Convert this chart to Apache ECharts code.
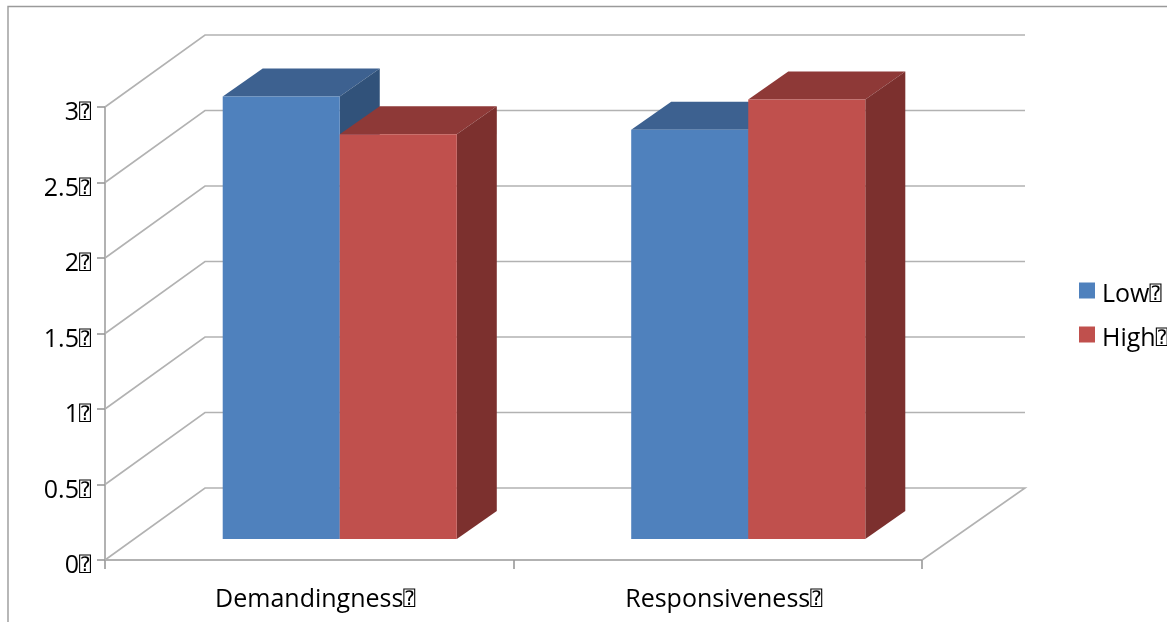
<!DOCTYPE html>
<html>
<head>
<meta charset="utf-8">
<style>html,body{margin:0;padding:0;background:#fff}#c{width:1167px;height:622px}</style>
<script src="https://cdn.jsdelivr.net/npm/echarts@6/dist/echarts.min.js"></script>
</head>
<body>
<div id="c"></div>
<script>
const categories = ['Demandingness', 'Responsiveness'];
const lowValues = [2.93, 2.71];
const highValues = [2.68, 2.91];
const yTicks = [0, 0.5, 1, 1.5, 2, 2.5, 3];
const mark = '\u2370';
const FONT = "'Open Sans'";
const GRID_COLOR = '#b2b2b2';
const rich = {
  t: {fontFamily: FONT, fontSize: 25, color: '#000'},
  m: {fontFamily: "'DejaVu Sans Mono'", fontSize: 20, color: '#000'}
};
const legendRich = {
  t: {fontFamily: FONT, fontSize: 25, color: '#000', padding: [8, 0, 0, 0]},
  m: {fontFamily: "'DejaVu Sans Mono'", fontSize: 20, color: '#000', padding: [8, 0, 0, 0]}
};
const tag = s => '{t|' + s + '}{m|' + mark + '}';

const chart = echarts.init(document.getElementById('c'), null, {renderer: 'canvas'});

function wallItem(params, api) {
  const v = api.value(0);
  const band = api.size([1, 0])[0];
  const x0 = api.coord([0, v])[0] - band / 2;
  const x1 = api.coord([categories.length - 1, v])[0] + band / 2;
  const y = api.coord([0, v])[1];
  const dx = 100, dy = 72;
  const style = {stroke: GRID_COLOR, lineWidth: 1.6, fill: null};
  const pts = [[x0, y], [x0 + dx, y - dy], [x1 + dx + 3, y - dy]];
  if (v === 0) pts.push([x1, y]);
  return {type: 'polyline', shape: {points: pts}, style};
}

function barItem(slot, front, top, side) {
  return function (params, api) {
    const band = api.size([1, 0])[0];
    const w = band * 0.2865;
    const c = api.coord([api.value(0), 0]);
    const t = api.coord([api.value(0), api.value(1)]);
    const ox = 30.5, oy = 21, dx = 40, dy = 28;
    const l = c[0] + ox + (slot === 0 ? -w : 0), r = l + w;
    const b = c[1] - oy, h = t[1] - oy;
    return {type: 'group', children: [
      {type: 'polygon', shape: {points: [[l, h], [l + dx, h - dy], [r + dx, h - dy], [r, h]]}, style: {fill: top}},
      {type: 'polygon', shape: {points: [[r, h], [r + dx, h - dy], [r + dx, b - dy], [r, b]]}, style: {fill: side}},
      {type: 'rect', shape: {x: l, y: h, width: w, height: b - h}, style: {fill: front}}
    ]};
  };
}

chart.setOption({
  animation: false,
  backgroundColor: '#fff',
  grid: {left: 105, right: 245, top: 107, bottom: 62},
  graphic: [{type: 'polyline', silent: true, z: 0,
    shape: {points: [[8, 622], [8, 6.5], [1167, 6.5]]},
    style: {stroke: '#9a9a9a', lineWidth: 1.4, fill: null}}],
  legend: {
    orient: 'vertical', left: 1079, top: 282, padding: 0, itemWidth: 16, itemHeight: 16, itemGap: 19,
    selectedMode: false, icon: 'rect',
    data: ['Low', 'High'],
    formatter: name => tag(name),
    textStyle: {fontFamily: FONT, fontSize: 25, color: '#000', padding: [0, 0, 0, 2], rich: legendRich}
  },
  xAxis: {
    type: 'category', data: categories,
    axisLine: {lineStyle: {color: GRID_COLOR, width: 2}},
    axisTick: {show: true, alignWithLabel: false, length: 9, lineStyle: {color: '#999', width: 1.6}},
    axisLabel: {fontFamily: FONT, fontSize: 25, color: '#000', margin: 27, padding: [0, 0, 0, 12],
      rich, formatter: v => tag(v)},
    splitLine: {show: false}
  },
  yAxis: {
    type: 'value', min: 0, max: 3, interval: 0.5,
    axisLine: {show: true, lineStyle: {color: GRID_COLOR, width: 2}},
    axisTick: {show: true, length: 8, lineStyle: {color: '#999', width: 1.6}},
    axisLabel: {fontFamily: FONT, fontSize: 25, color: '#000', margin: 14, padding: [12, 0, 0, 0],
      rich, formatter: v => tag(v)},
    splitLine: {show: false}
  },
  series: [
    {type: 'custom', name: 'walls', z: 1, silent: true, renderItem: wallItem,
      data: yTicks.map(v => [v]), encode: {y: 0}},
    {type: 'custom', name: 'Low', z: 2, itemStyle: {color: '#4F81BD'},
      renderItem: barItem(0, '#4F81BD', '#3D6190', '#31527A'),
      data: lowValues.map((v, i) => [i, v]), encode: {x: 0, y: 1}},
    {type: 'custom', name: 'High', z: 3, itemStyle: {color: '#C0504D'},
      renderItem: barItem(1, '#C0504D', '#8E3937', '#7C302E'),
      data: highValues.map((v, i) => [i, v]), encode: {x: 0, y: 1}}
  ]
});
</script>
</body>
</html>
